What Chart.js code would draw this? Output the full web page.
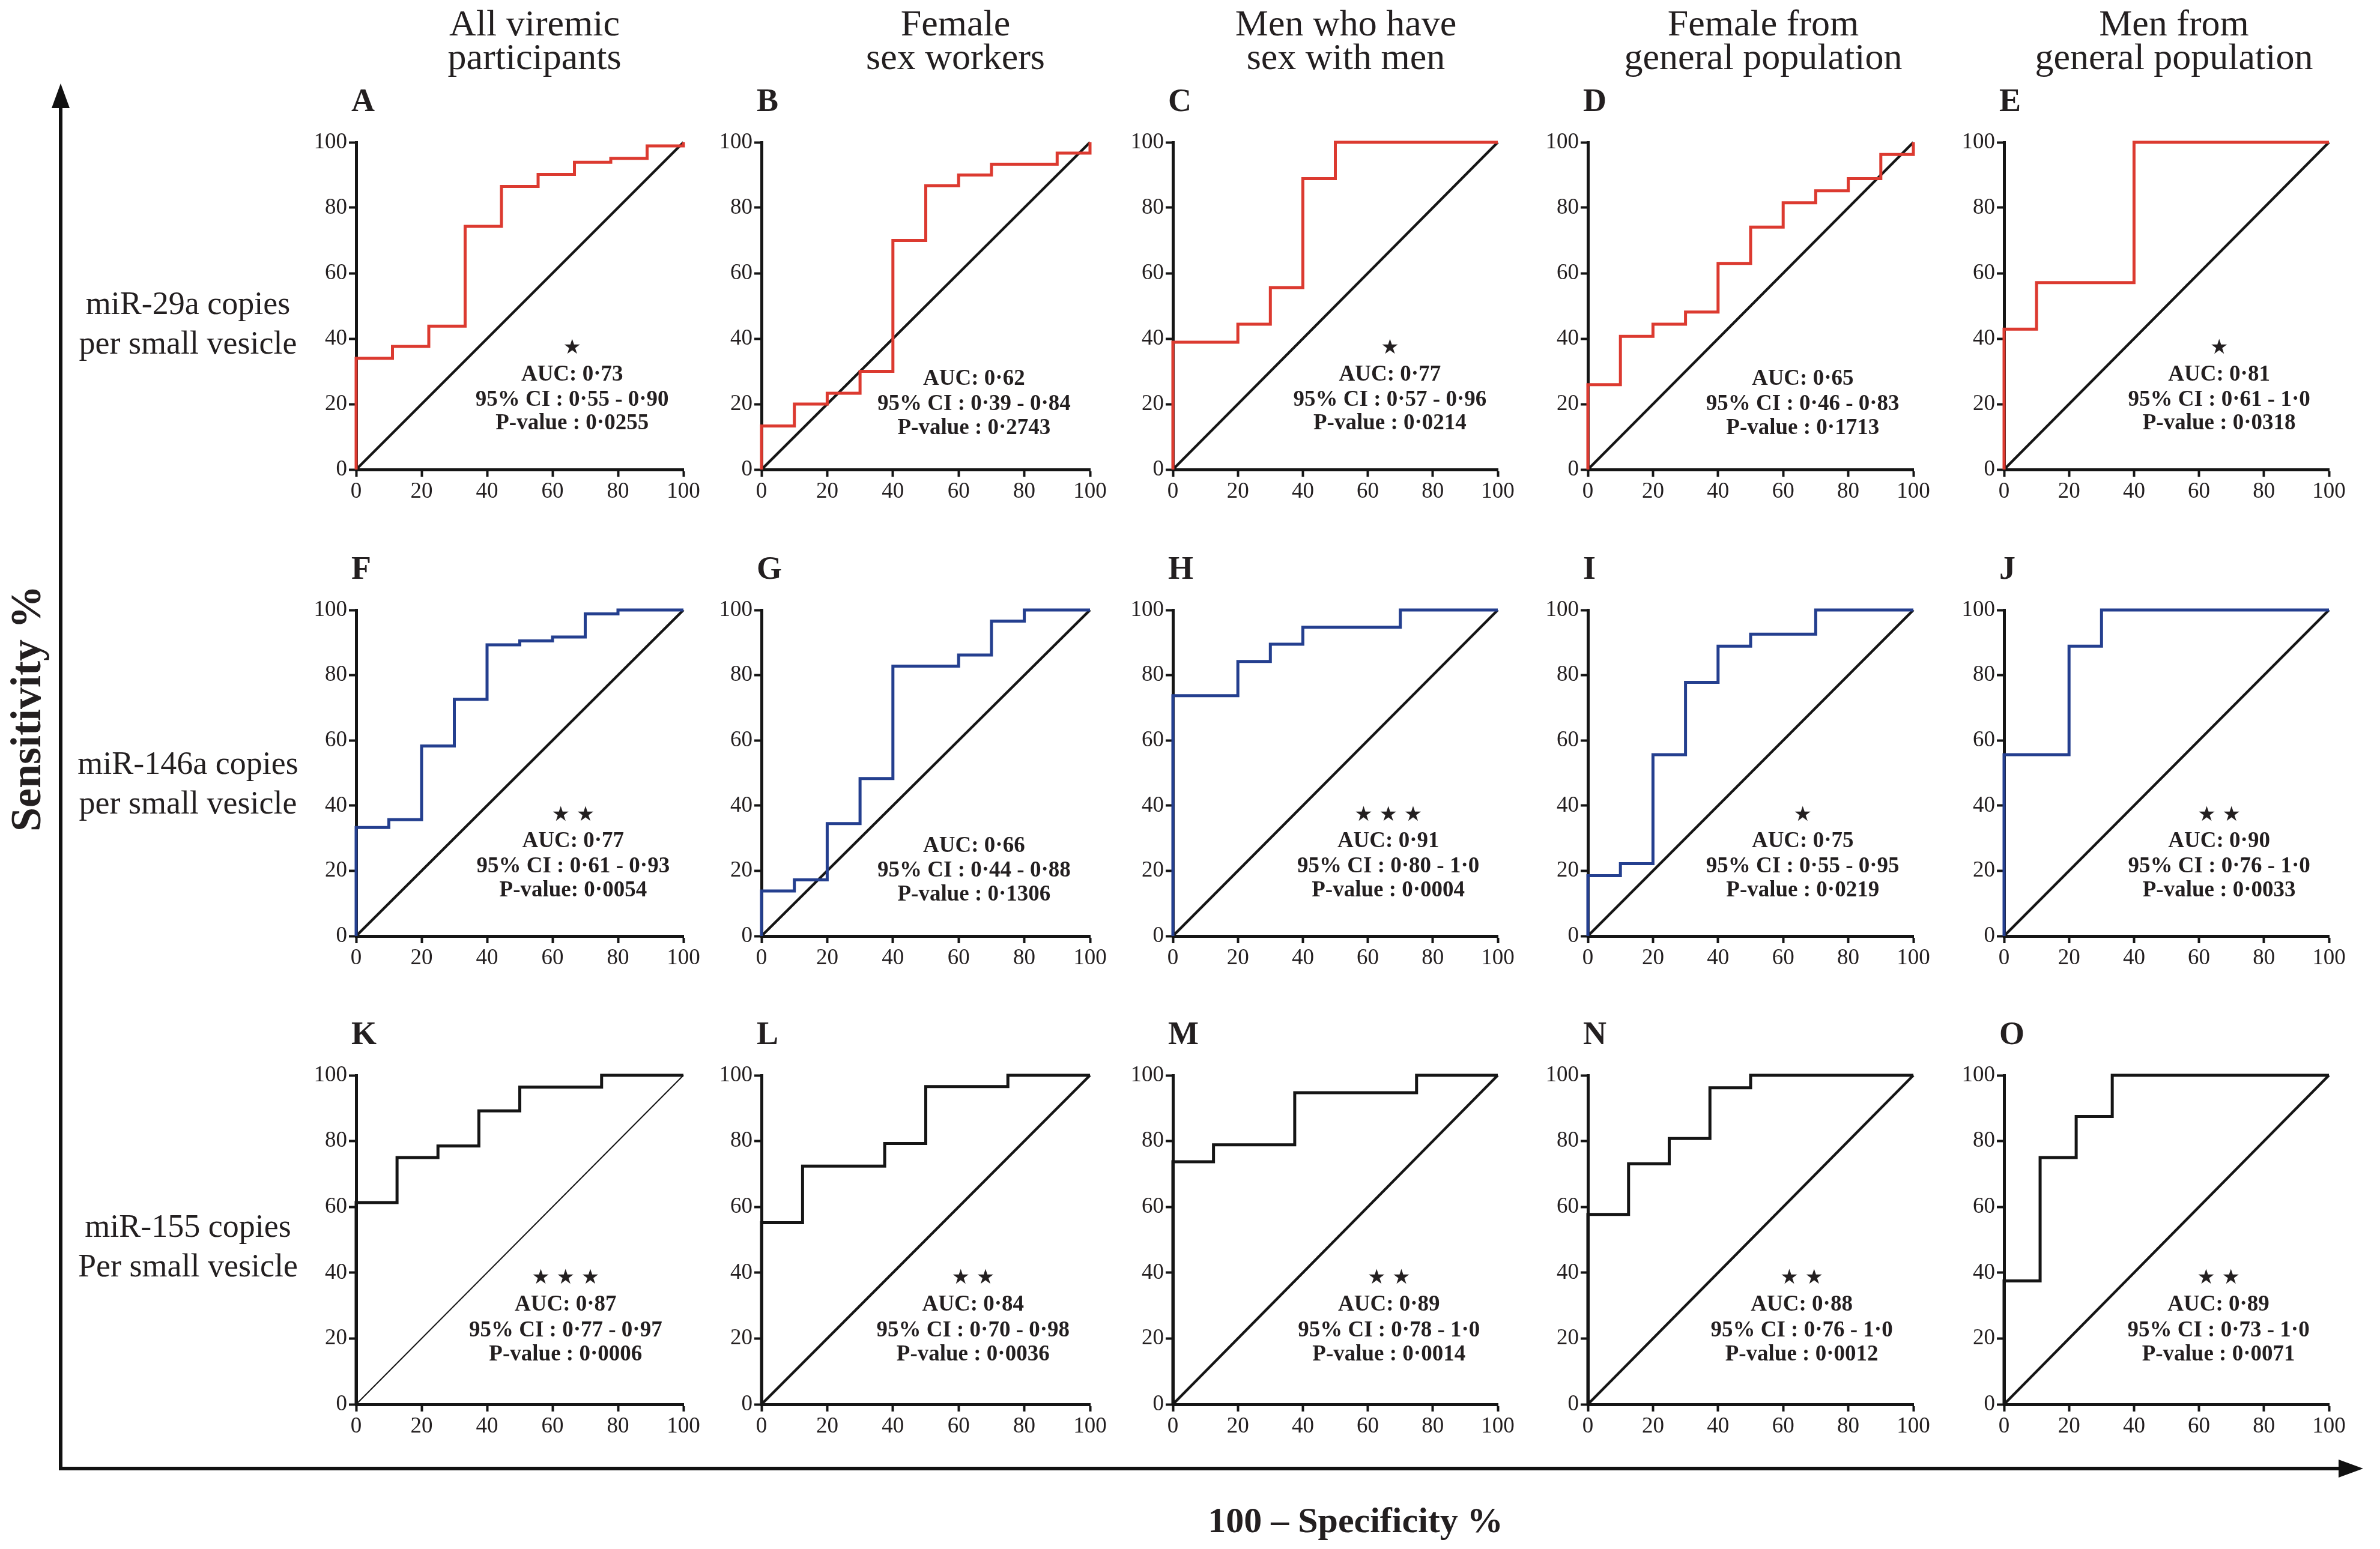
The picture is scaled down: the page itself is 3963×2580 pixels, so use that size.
<!DOCTYPE html>
<html>
<head>
<meta charset="utf-8">
<script src="https://cdn.jsdelivr.net/npm/chart.js@4.4.1/dist/chart.umd.min.js"></script>
<style>
	body { margin: 0; background: #fff; width: 3963px; height: 2580px; position: relative; overflow: hidden; font-family: "Liberation Serif", "Times New Roman", serif; color: #231f20; }
	.txt { position: absolute; white-space: nowrap; text-align: center; transform: translateX(-50%); }
	.colTitle { font-size: 62px; line-height: 56px; top: 10px; }
	.rowLabel { font-size: 54px; line-height: 66px; }
	.panel { position: absolute; }
	#bigAxes { position: absolute; left: 0; top: 0; }
</style>
</head>
<body>
<svg id="bigAxes" width="3963" height="2580">
	<line x1="101" y1="2446" x2="101" y2="172" stroke="#111" stroke-width="6"/>
	<polygon points="101,139 86,180 116,180" fill="#111"/>
	<line x1="98" y1="2446" x2="3900" y2="2446" stroke="#111" stroke-width="6"/>
	<polygon points="3935,2446 3894,2431 3894,2461" fill="#111"/>
</svg>
<div id="labels"></div>
<script>
	// Texts round the grid
	var columnTitles = [["All viremic", "participants"], ["Female", "sex workers"], ["Men who have", "sex with men"], ["Female from", "general population"], ["Men from", "general population"]];
	var rowLabels = [["miR-29a copies", "per small vesicle"], ["miR-146a copies", "per small vesicle"], ["miR-155 copies", "Per small vesicle"]];
	var panelLetters = ['A', 'B', 'C', 'D', 'E', 'F', 'G', 'H', 'I', 'J', 'K', 'L', 'M', 'N', 'O'];
	var yAxisTitle = "Sensitivity %";
	var xAxisTitle = "100 \u2013 Specificity %";
	var tickValues = [0, 20, 40, 60, 80, 100];
	var chanceLine = [0, 100];

	// ROC curves: [100 - specificity %, sensitivity %] at each step corner
	var rocA = [[0, 0], [0, 34], [11.1, 37.6], [22.2, 43.8], [33.3, 74.3], [44.4, 86.5], [55.6, 90.2], [66.7, 93.9], [77.8, 95.1], [88.9, 98.9], [100, 100]];
	var rocB = [[0, 0], [0, 13.3], [10, 20], [20, 23.3], [30, 30], [40, 70], [50, 86.7], [60, 90], [70, 93.3], [90, 96.7], [100, 100]];
	var rocC = [[0, 0], [0, 38.9], [20, 44.4], [30, 55.6], [40, 88.9], [50, 100], [100, 100]];
	var rocD = [[0, 0], [0, 25.9], [10, 40.7], [20, 44.4], [30, 48.1], [40, 63], [50, 74.1], [60, 81.5], [70, 85.2], [80, 88.9], [90, 96.3], [100, 100]];
	var rocE = [[0, 0], [0, 42.9], [10, 57.1], [40, 100], [100, 100]];
	var rocF = [[0, 0], [0, 33.3], [10, 35.7], [20, 58.3], [30, 72.6], [40, 89.3], [50, 90.5], [60, 91.7], [70, 98.8], [80, 100], [100, 100]];
	var rocG = [[0, 0], [0, 13.8], [10, 17.2], [20, 34.5], [30, 48.3], [40, 82.8], [60, 86.2], [70, 96.6], [80, 100], [100, 100]];
	var rocH = [[0, 0], [0, 73.7], [20, 84.2], [30, 89.5], [40, 94.7], [70, 100], [100, 100]];
	var rocI = [[0, 0], [0, 18.5], [10, 22.2], [20, 55.6], [30, 77.8], [40, 88.9], [50, 92.6], [70, 100], [100, 100]];
	var rocJ = [[0, 0], [0, 55.6], [20, 88.9], [30, 100], [100, 100]];
	var rocK = [[0, 0], [0, 61.3], [12.5, 75], [25, 78.5], [37.5, 89.2], [50, 96.4], [75, 100], [100, 100]];
	var rocL = [[0, 0], [0, 55.2], [12.5, 72.4], [37.5, 79.3], [50, 96.6], [75, 100], [100, 100]];
	var rocM = [[0, 0], [0, 73.7], [12.5, 78.9], [37.5, 94.7], [75, 100], [100, 100]];
	var rocN = [[0, 0], [0, 57.7], [12.5, 73.1], [25, 80.8], [37.5, 96.2], [50, 100], [100, 100]];
	var rocO = [[0, 0], [0, 37.5], [11.1, 75], [22.2, 87.5], [33.3, 100], [100, 100]];

	// Statistics printed in each panel
	var starCounts = [1, 0, 1, 0, 1, 2, 0, 3, 1, 2, 3, 2, 2, 2, 2];
	var aucValues = ["0\u00b773", "0\u00b762", "0\u00b777", "0\u00b765", "0\u00b781", "0\u00b777", "0\u00b766", "0\u00b791", "0\u00b775", "0\u00b790", "0\u00b787", "0\u00b784", "0\u00b789", "0\u00b788", "0\u00b789"];
	var ciValues = ["0\u00b755 - 0\u00b790", "0\u00b739 - 0\u00b784", "0\u00b757 - 0\u00b796", "0\u00b746 - 0\u00b783", "0\u00b761 - 1\u00b70",
		"0\u00b761 - 0\u00b793", "0\u00b744 - 0\u00b788", "0\u00b780 - 1\u00b70", "0\u00b755 - 0\u00b795", "0\u00b776 - 1\u00b70",
		"0\u00b777 - 0\u00b797", "0\u00b770 - 0\u00b798", "0\u00b778 - 1\u00b70", "0\u00b776 - 1\u00b70", "0\u00b773 - 1\u00b70"];
	var pValues = ["0\u00b70255", "0\u00b72743", "0\u00b70214", "0\u00b71713", "0\u00b70318", "0\u00b70054", "0\u00b71306", "0\u00b70004", "0\u00b70219", "0\u00b70033", "0\u00b70006", "0\u00b70036", "0\u00b70014", "0\u00b70012", "0\u00b70071"];

	var rocCurves = [rocA, rocB, rocC, rocD, rocE, rocF, rocG, rocH, rocI, rocJ, rocK, rocL, rocM, rocN, rocO];

	// Layout (pixels of the plot areas in the page)
	var colX = [[593, 1138], [1268, 1815], [1953, 2494], [2644, 3186], [3337, 3878]];
	var rowY = [[237, 782], [1016, 1559], [1791, 2339]];
	var rowColors = ['#dc3a30', '#243f8f', '#151515'];
	var titleCenters = [890, 1591, 2241, 2936, 3620];
	var rowLabelCenter = [[313, 505], [313, 1271], [313, 2042]];
	var textX = [66, 64.7, 66.8, 66, 66.2, 66.3, 64.7, 66.3, 66, 66.2, 64, 64.4, 66.5, 65.7, 66];

	var AXIS_W = 75, AXIS_H = 60, PAD_TOP = 100, PAD_RIGHT = 40;
	var INK = '#231f20';
	var SERIF = '"Liberation Serif", "Times New Roman", serif';

	var labelsDiv = document.getElementById('labels');
	function addText(html, cls, style) {
		var d = document.createElement('div');
		d.className = 'txt ' + cls;
		d.innerHTML = html;
		for (var k in style) d.style[k] = style[k];
		labelsDiv.appendChild(d);
		return d;
	}
	columnTitles.forEach(function (t, i) {
		addText(t.join('<br>'), 'colTitle', {left: titleCenters[i] + 'px'});
	});
	rowLabels.forEach(function (t, i) {
		addText(t.join('<br>'), 'rowLabel', {left: rowLabelCenter[i][0] + 'px', top: (rowLabelCenter[i][1] - 33) + 'px'});
	});
	addText(yAxisTitle, '', {left: '43px', top: '1180px', fontSize: '72px', fontWeight: 'bold', lineHeight: '72px',
		transform: 'translate(-50%, -50%) rotate(-90deg)'});
	addText(xAxisTitle, '', {left: '2257px', top: '2500px', fontSize: '60px', fontWeight: 'bold', lineHeight: '64px'});

	/**
	 * Draws the panel letter and the AUC block with the library's scales
	 */
	var panelText = {
		id: 'panelText',
		afterDatasetsDraw: function (chart, args, opts) {
			var ctx = chart.ctx, xs = chart.scales.x, ys = chart.scales.y, area = chart.chartArea;
			ctx.save();
			ctx.fillStyle = INK;
			ctx.textAlign = 'left';
			ctx.textBaseline = 'alphabetic';
			ctx.font = 'bold 54px ' + SERIF;
			ctx.fillText(opts.letter, area.left - 8, area.top - 52);

			ctx.textAlign = 'center';
			ctx.textBaseline = 'middle';
			var cx = xs.getPixelForValue(opts.x);
			var lines = opts.lines;
			if (opts.stars > 0) {
				ctx.font = '34px "DejaVu Sans"';
				var s = [];
				for (var i = 0; i < opts.stars; i++) s.push('\u2605');
				ctx.fillText(s.join(' '), cx, ys.getPixelForValue(lines[0]));
			}
			ctx.font = 'bold 37px ' + SERIF;
			ctx.fillText('AUC: ' + opts.auc, cx, ys.getPixelForValue(lines[1]));
			ctx.fillText('95% CI : ' + opts.ci, cx, ys.getPixelForValue(lines[2]));
			ctx.fillText(opts.p, cx, ys.getPixelForValue(lines[3]));
			ctx.restore();
		}
	};

	function axisOptions(isX) {
		return {
			type: 'linear',
			min: 0,
			max: 100,
			afterBuildTicks: function (scale) {
				scale.ticks = tickValues.map(function (v) { return {value: v}; });
			},
			afterFit: function (scale) {
				if (isX) { scale.height = AXIS_H; } else { scale.width = AXIS_W; }
			},
			grid: {drawOnChartArea: false, drawTicks: true, tickLength: 12, tickWidth: 4, tickColor: '#151515'},
			border: {display: true, color: '#151515', width: 5},
			ticks: {
				color: INK,
				padding: 3,
				maxRotation: 0,
				autoSkip: false,
				font: {family: SERIF, size: 37}
			}
		};
	}

	function buildPanel(index) {
		var row = Math.floor(index / 5), col = index % 5;
		var x0 = colX[col][0], x1 = colX[col][1], y0 = rowY[row][0], y1 = rowY[row][1];
		var w = AXIS_W + (x1 - x0) + PAD_RIGHT, h = PAD_TOP + (y1 - y0) + AXIS_H;
		var holder = document.createElement('div');
		holder.className = 'panel';
		holder.style.left = (x0 - AXIS_W) + 'px';
		holder.style.top = (y0 - PAD_TOP) + 'px';
		var canvas = document.createElement('canvas');
		canvas.width = w;
		canvas.height = h;
		canvas.style.width = w + 'px';
		canvas.style.height = h + 'px';
		holder.appendChild(canvas);
		document.body.appendChild(holder);

		var pSep = (index === 5) ? 'P-value: ' : 'P-value : ';
		var hasStar = starCounts[index] > 0;
		var textLines = row === 2 ? [38.3, 30.3, 22.4, 15] : (hasStar ? [37, 29, 21.2, 14] : [37, 27.6, 20, 12.6]);

		return new Chart(canvas, {
			type: 'line',
			data: {
				datasets: [
					{
						data: rocCurves[index].map(function (p) { return {x: p[0], y: p[1]}; }),
						borderColor: rowColors[row],
						borderWidth: 5,
						stepped: true,
						pointRadius: 0,
						fill: false,
						clip: false
					},
					{
						data: chanceLine.map(function (v) { return {x: v, y: v}; }),
						borderColor: '#151515',
						borderWidth: index === 10 ? 2 : 4.5,
						pointRadius: 0,
						fill: false,
						clip: false
					}
				]
			},
			options: {
				responsive: false,
				animation: false,
				devicePixelRatio: 1,
				layout: {padding: {top: PAD_TOP, right: PAD_RIGHT, left: 0, bottom: 0}},
				scales: {x: axisOptions(true), y: axisOptions(false)},
				plugins: {
					legend: {display: false},
					tooltip: {enabled: false},
					panelText: {
						letter: panelLetters[index],
						stars: starCounts[index],
						x: textX[index],
						lines: textLines,
						auc: aucValues[index],
						ci: ciValues[index],
						p: pSep + pValues[index]
					}
				}
			},
			plugins: [panelText]
		});
	}

	for (var i = 0; i < rocCurves.length; i++) {
		buildPanel(i);
	}
</script>
</body>
</html>
